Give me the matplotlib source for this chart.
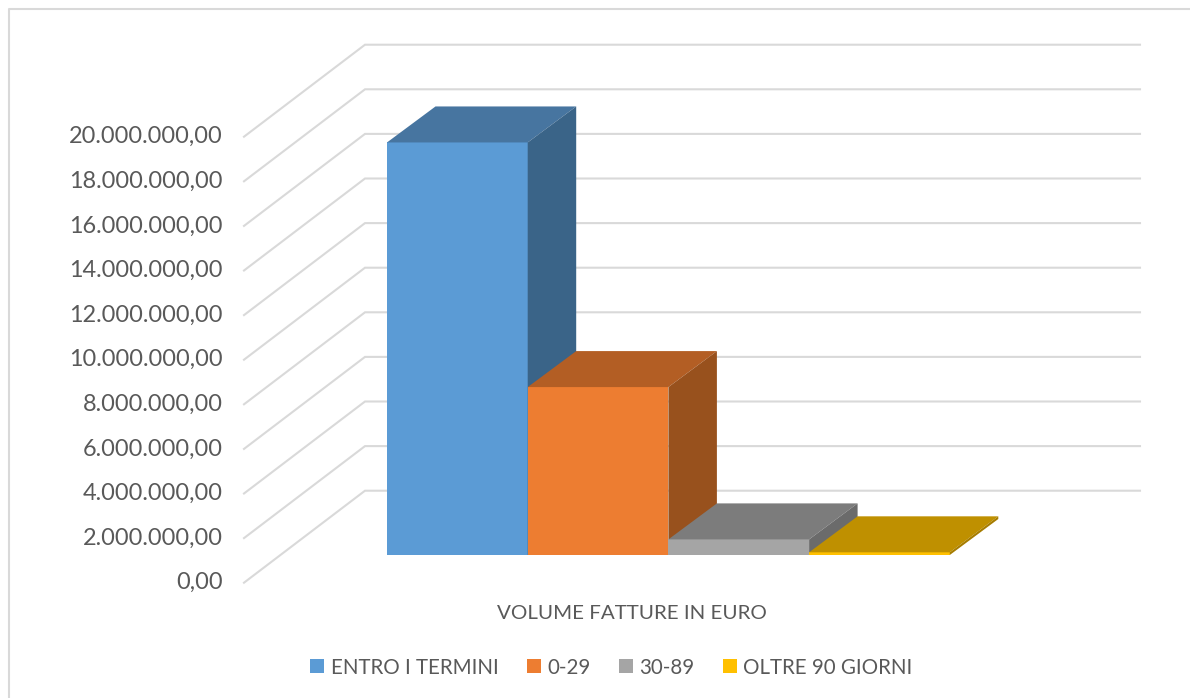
import matplotlib
matplotlib.use('Agg')
import matplotlib.pyplot as plt
from matplotlib.patches import Polygon, Patch

plt.rcParams['font.family'] = ['Lato', 'DejaVu Sans']

# data
categories = ['ENTRO I TERMINI', '0-29', '30-89', 'OLTRE 90 GIORNI']
values = [18500000, 7530000, 700000, 120000]
ticks = list(range(0, 22000000, 2000000))
axis_label = 'VOLUME FATTURE IN EURO'

front_colors = ['#5B9BD5', '#ED7D31', '#A5A5A5', '#FFC000']
top_colors = ['#4775A0', '#B35E24', '#7C7C7C', '#BF9000']
side_colors = ['#3A6488', '#98511D', '#6B6B6B', '#A67C00']
text_color = '#595959'
grid_color = '#D9D9D9'

# oblique projection of the excel 3d chart, in pixels
px_per_unit = 22.3 / 1000000
wall_front_x, zero_front_y = 244, 582.7
wall_dx, wall_dy = 121, -92
wall_right = 1140
bar_left, bar_width = 387, 140.7
bar_base_y = 555
bar_dx, bar_dy = 48.5, -36


def val_y(v):
    return v * px_per_unit


def tick_text(v):
    return f'{v:,.2f}'.replace(',', 'X').replace('.', ',').replace('X', '.')


fig = plt.figure(figsize=(11.9, 6.98), dpi=100)
ax = fig.add_axes([0, 0, 1, 1])
ax.set_xlim(0, 1190)
ax.set_ylim(698, 0)
ax.axis('off')

# chart border
ax.plot([9, 9, 1190], [698, 9, 9], color=grid_color, lw=1.5, zorder=1)

# walls and tick labels
for t in ticks:
    y = zero_front_y - val_y(t)
    ax.plot([wall_front_x, wall_front_x + wall_dx, wall_right],
            [y, y + wall_dy, y + wall_dy],
            color=grid_color, lw=1.5, zorder=1, solid_joinstyle='miter')
    ax.text(222.5, y, tick_text(t), ha='right', va='center',
            fontsize=16.9, color=text_color)

# bars, left to right so the next one covers the side of the previous
for i, v in enumerate(values):
    x0 = bar_left + i * bar_width
    x1 = x0 + bar_width
    y0 = bar_base_y
    y1 = bar_base_y - val_y(v)
    z = 2 + i
    ax.add_patch(Polygon([(x0, y0), (x1, y0), (x1, y1), (x0, y1)],
                         facecolor=front_colors[i], edgecolor='none', zorder=z))
    ax.add_patch(Polygon([(x0, y1), (x1, y1), (x1 + bar_dx, y1 + bar_dy), (x0 + bar_dx, y1 + bar_dy)],
                         facecolor=top_colors[i], edgecolor='none', zorder=z))
    ax.add_patch(Polygon([(x1, y0), (x1 + bar_dx, y0 + bar_dy), (x1 + bar_dx, y1 + bar_dy), (x1, y1)],
                         facecolor=side_colors[i], edgecolor='none', zorder=z))

ax.text(632, 613.5, axis_label, ha='center', va='center', fontsize=14.75, color=text_color)

handles = [Patch(facecolor=c, edgecolor='none') for c in front_colors]
ax.legend(handles, categories, ncol=4, loc='center', bbox_to_anchor=(611.5 / 1190, 1 - 667.5 / 698),
          frameon=False, fontsize=14.8, labelcolor=text_color,
          handlelength=0.68, handleheight=0.68, handletextpad=0.3, columnspacing=1.4)

fig.savefig('out.png', dpi=100)
